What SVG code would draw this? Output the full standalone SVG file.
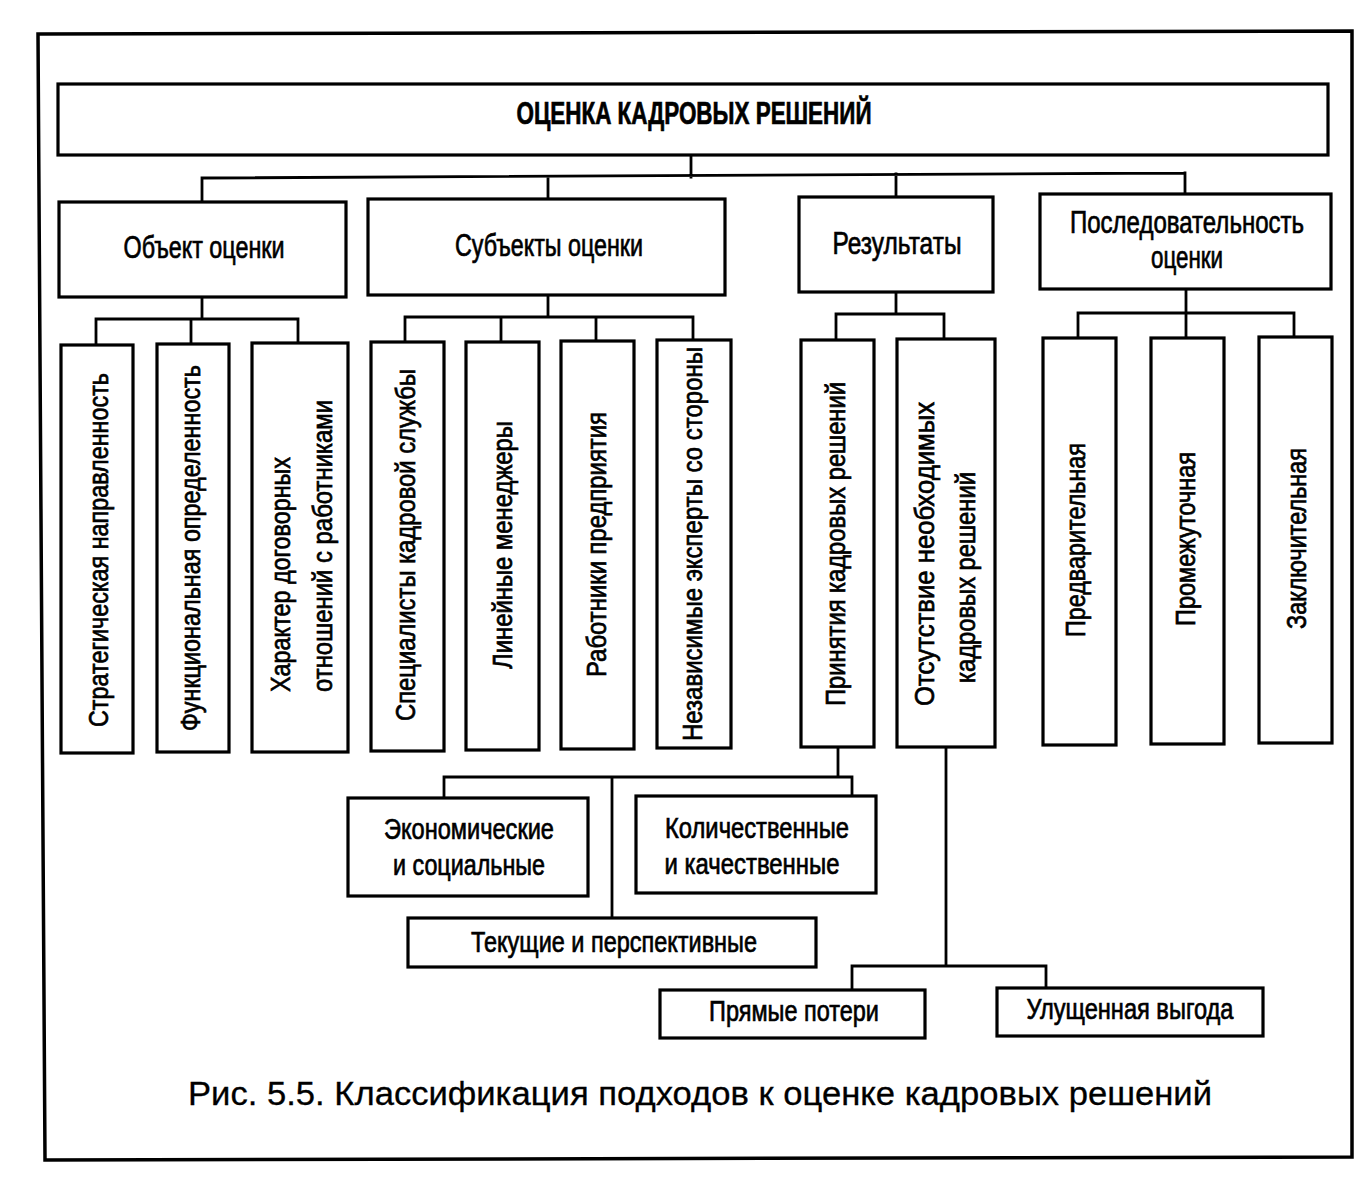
<svg xmlns="http://www.w3.org/2000/svg" width="1371" height="1194" viewBox="0 0 1371 1194">
<style>
.bx{fill:#fff;stroke:#000;stroke-width:3.2}
.ln{fill:none;stroke:#000;stroke-width:2.8;stroke-linecap:square}
text{font-family:"Liberation Sans Narrow","Liberation Sans",Arial,sans-serif;fill:#000;stroke:#000;stroke-width:0.7}
.t{font-size:31px;text-anchor:middle}
.v{font-size:28px}
.b{font-size:29px;text-anchor:middle}
.cap{stroke-width:0.3}
</style>
<rect width="1371" height="1194" fill="#fff"/>
<path d="M38,34 L1352,31 L1352,1157 L45,1160 Z" fill="none" stroke="#000" stroke-width="3.5"/>

<g id="connectors">
<path class="ln" d="M691,155 V177 M202,178 L1185,173 M202,178 V202 M548,177 V199 M896,174 V197 M1185,173 V194"/>
<path class="ln" d="M202,297 V319 M96,319 H298 M96,319 V344 M191,319 V343 M298,319 V342"/>
<path class="ln" d="M548,295 V317 M405,317 H693 M405,317 V342 M501,317 V342 M596,317 V341 M693,317 V340"/>
<path class="ln" d="M896,292 V314 M836,314 H944 M836,314 V340 M944,314 V339"/>
<path class="ln" d="M1186,289 V313 M1078,313 H1294 M1078,313 V338 M1186,313 V338 M1294,313 V337"/>
<path class="ln" d="M838,747 V777 M444,777 H852 M444,777 V798 M852,777 V796 M612,777 V918"/>
<path class="ln" d="M946,747 V966 M852,966 H1046 M852,966 V990 M1046,966 V988"/>
</g>

<g id="n-root"><rect class="bx" x="58" y="84" width="1270" height="71"/>
<text x="694" y="124" font-size="31" font-weight="bold" text-anchor="middle" stroke-width="1.4" textLength="355" lengthAdjust="spacingAndGlyphs">ОЦЕНКА КАДРОВЫХ РЕШЕНИЙ</text></g>

<g id="n-obj"><rect class="bx" x="59" y="202" width="287" height="95"/>
<text class="t" x="204" y="258" textLength="161" lengthAdjust="spacingAndGlyphs">Объект оценки</text></g>
<g id="n-subj"><rect class="bx" x="368" y="199" width="357" height="96"/>
<text class="t" x="549" y="256" textLength="188" lengthAdjust="spacingAndGlyphs">Субъекты оценки</text></g>
<g id="n-res"><rect class="bx" x="799" y="197" width="194" height="95"/>
<text class="t" x="897" y="254" textLength="129" lengthAdjust="spacingAndGlyphs">Результаты</text></g>
<g id="n-seq"><rect class="bx" x="1040" y="194" width="291" height="95"/>
<text class="t" x="1187" y="233" textLength="234" lengthAdjust="spacingAndGlyphs">Последовательность</text>
<text class="t" x="1187" y="268" textLength="72" lengthAdjust="spacingAndGlyphs">оценки</text></g>

<g id="n-strat"><rect class="bx" x="61" y="345" width="72" height="408"/>
<text class="v" transform="translate(108,727) rotate(-90)" textLength="354" lengthAdjust="spacingAndGlyphs">Стратегическая направленность</text></g>
<g id="n-func"><rect class="bx" x="157" y="344" width="72" height="408"/>
<text class="v" transform="translate(200,731) rotate(-90)" textLength="366" lengthAdjust="spacingAndGlyphs">Функциональная определенность</text></g>
<g id="n-har"><rect class="bx" x="252" y="343" width="96" height="409"/>
<text class="v" transform="translate(290,692) rotate(-90)" textLength="235" lengthAdjust="spacingAndGlyphs">Характер договорных</text>
<text class="v" transform="translate(332,692) rotate(-90)" textLength="292" lengthAdjust="spacingAndGlyphs">отношений с работниками</text></g>

<g id="n-spec"><rect class="bx" x="371" y="342" width="73" height="409"/>
<text class="v" transform="translate(415,721) rotate(-90)" textLength="352" lengthAdjust="spacingAndGlyphs">Специалисты кадровой службы</text></g>
<g id="n-lin"><rect class="bx" x="466" y="342" width="73" height="408"/>
<text class="v" transform="translate(512,669) rotate(-90)" textLength="248" lengthAdjust="spacingAndGlyphs">Линейные менеджеры</text></g>
<g id="n-rab"><rect class="bx" x="561" y="341" width="73" height="408"/>
<text class="v" transform="translate(606,677) rotate(-90)" textLength="265" lengthAdjust="spacingAndGlyphs">Работники предприятия</text></g>
<g id="n-nez"><rect class="bx" x="657" y="340" width="74" height="408"/>
<text class="v" transform="translate(702,741) rotate(-90)" textLength="394" lengthAdjust="spacingAndGlyphs">Независимые эксперты со стороны</text></g>

<g id="n-prin"><rect class="bx" x="801" y="340" width="73" height="407"/>
<text class="v" transform="translate(845,706) rotate(-90)" textLength="324" lengthAdjust="spacingAndGlyphs">Принятия кадровых решений</text></g>
<g id="n-ots"><rect class="bx" x="897" y="339" width="98" height="408"/>
<text class="v" transform="translate(934,706) rotate(-90)" textLength="304" lengthAdjust="spacingAndGlyphs">Отсутствие необходимых</text>
<text class="v" transform="translate(975,683) rotate(-90)" textLength="211" lengthAdjust="spacingAndGlyphs">кадровых решений</text></g>

<g id="n-pred"><rect class="bx" x="1043" y="338" width="73" height="407"/>
<text class="v" transform="translate(1085,637) rotate(-90)" textLength="194" lengthAdjust="spacingAndGlyphs">Предварительная</text></g>
<g id="n-prom"><rect class="bx" x="1151" y="338" width="73" height="406"/>
<text class="v" transform="translate(1195,626) rotate(-90)" textLength="174" lengthAdjust="spacingAndGlyphs">Промежуточная</text></g>
<g id="n-zakl"><rect class="bx" x="1259" y="337" width="73" height="406"/>
<text class="v" transform="translate(1306,629) rotate(-90)" textLength="181" lengthAdjust="spacingAndGlyphs">Заключительная</text></g>

<g id="n-econ"><rect class="bx" x="348" y="798" width="240" height="98"/>
<text class="b" x="469" y="839" textLength="170" lengthAdjust="spacingAndGlyphs">Экономические</text>
<text class="b" x="469" y="875" textLength="152" lengthAdjust="spacingAndGlyphs">и социальные</text></g>
<g id="n-kol"><rect class="bx" x="636" y="796" width="240" height="97"/>
<text class="b" x="757" y="838" textLength="184" lengthAdjust="spacingAndGlyphs">Количественные</text>
<text class="b" x="752" y="874" textLength="175" lengthAdjust="spacingAndGlyphs">и качественные</text></g>
<g id="n-tek"><rect class="bx" x="408" y="918" width="408" height="49"/>
<text class="b" x="614" y="952" textLength="286" lengthAdjust="spacingAndGlyphs">Текущие и перспективные</text></g>
<g id="n-pryam"><rect class="bx" x="660" y="990" width="265" height="48"/>
<text class="b" x="794" y="1021" textLength="170" lengthAdjust="spacingAndGlyphs">Прямые потери</text></g>
<g id="n-upusch"><rect class="bx" x="997" y="988" width="266" height="48"/>
<text class="b" x="1130" y="1019" textLength="207" lengthAdjust="spacingAndGlyphs">Улущенная выгода</text></g>

<text class="cap" x="188" y="1105" font-size="33" textLength="1024" lengthAdjust="spacingAndGlyphs">Рис. 5.5. Классификация подходов к оценке кадровых решений</text>
</svg>
